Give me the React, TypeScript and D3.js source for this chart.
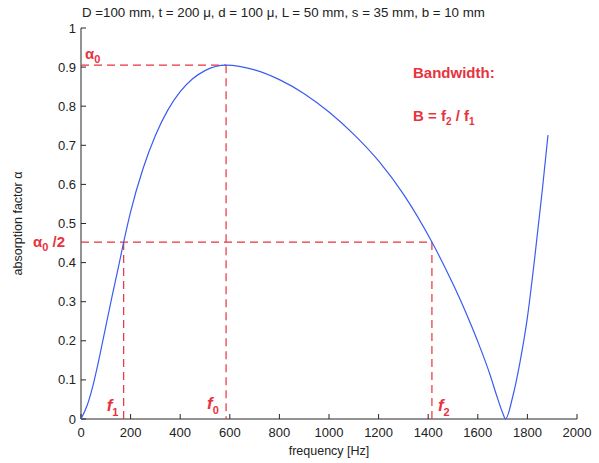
import * as d3 from "d3";

const freq = [0, 25, 50, 75, 100, 125, 150, 172, 200, 250, 300, 350, 400, 450, 500, 585, 700, 800, 900, 1000, 1100, 1200, 1300, 1415, 1500, 1550, 1600, 1650, 1675, 1700, 1712, 1740, 1770, 1800, 1830, 1860, 1883];
const alpha = [0, 0.035, 0.09, 0.16, 0.237, 0.313, 0.386, 0.4525, 0.53, 0.64, 0.725, 0.79, 0.837, 0.87, 0.891, 0.905, 0.893, 0.868, 0.832, 0.785, 0.728, 0.66, 0.575, 0.4525, 0.345, 0.275, 0.198, 0.112, 0.062, 0.016, 0, 0.055, 0.145, 0.26, 0.415, 0.585, 0.726];

const xTicks = [0, 200, 400, 600, 800, 1000, 1200, 1400, 1600, 1800, 2000];
const yTicks = [0, 0.1, 0.2, 0.3, 0.4, 0.5, 0.6, 0.7, 0.8, 0.9, 1];

const alpha0 = 0.905;
const f0 = 585;
const f1 = 172;
const f2 = 1415;

const title = "D =100 mm, t = 200 \u03bc, d = 100 \u03bc, L = 50 mm, s = 35 mm, b = 10 mm";

export default function App() {
  const width = 599;
  const height = 463;
  const marginLeft = 81;
  const marginRight = 22;
  const marginTop = 28;
  const marginBottom = 44;

  const x = d3.scaleLinear().domain([0, 2000]).range([marginLeft, width - marginRight]);
  const y = d3.scaleLinear().domain([0, 1]).range([height - marginBottom, marginTop]);

  const pts = freq.map((f, i) => [f, alpha[i]] as [number, number]);
  const line = d3
    .line<[number, number]>()
    .x((d) => x(d[0]))
    .y((d) => y(d[1]))
    .curve(d3.curveMonotoneX);

  const red = "#e8323e";
  const axisColor = "#262626";
  const font = "Arial, 'Liberation Sans', sans-serif";
  const dash = "8,5";
  const y0 = y(0);
  const half = alpha0 / 2;

  return (
    <svg width={width} height={height} style={{ position: "absolute", left: 0, top: 0 }} fontFamily={font}>
      <rect width={width} height={height} fill="white" />
      <text x={82} y={17} fontSize={13.3} fill="#222">{title}</text>

      {/* axes */}
      <line x1={x(0)} x2={x(0)} y1={y(0)} y2={y(1)} stroke={axisColor} />
      <line x1={x(0)} x2={x(2000)} y1={y0} y2={y0} stroke={axisColor} />
      {yTicks.map((t) => (
        <g key={"y" + t}>
          <line x1={x(0)} x2={x(0) + 5} y1={y(t)} y2={y(t)} stroke={axisColor} />
          <text x={x(0) - 5} y={y(t) + 4.5} fontSize={13} textAnchor="end" fill="#222">{d3.format("")(+t.toFixed(1))}</text>
        </g>
      ))}
      {xTicks.map((t) => (
        <g key={"x" + t}>
          <line x1={x(t)} x2={x(t)} y1={y0} y2={y0 - 5} stroke={axisColor} />
          <text x={x(t)} y={y0 + 18} fontSize={13} textAnchor="middle" fill="#222">{t}</text>
        </g>
      ))}
      <text x={x(1000)} y={455} fontSize={12.5} textAnchor="middle" fill="#222">frequency [Hz]</text>
      <text transform={`translate(22,${(y(0) + y(1)) / 2}) rotate(-90)`} fontSize={12.5} textAnchor="middle" fill="#222">absorption factor {"\u03b1"}</text>

      {/* dashed guides */}
      <g stroke={red} strokeDasharray={dash} strokeWidth={1.2} fill="none">
        <line x1={x(0)} x2={x(f0)} y1={y(alpha0)} y2={y(alpha0)} />
        <line x1={x(f0)} x2={x(f0)} y1={y(alpha0)} y2={y0} />
        <line x1={x(0)} x2={x(f2)} y1={y(half)} y2={y(half)} />
        <line x1={x(f1)} x2={x(f1)} y1={y(half)} y2={y0} />
        <line x1={x(f2)} x2={x(f2)} y1={y(half)} y2={y0} />
      </g>

      <path d={line(pts) ?? ""} fill="none" stroke="#3a5cf0" strokeWidth={1.2} />

      {/* annotations */}
      <g fill={red} fontWeight="bold">
        <text x={x(0) + 4} y={y(alpha0) - 6} fontSize={15}>{"\u03b1"}<tspan fontSize={11} dy={4}>0</tspan></text>
        <text x={33} y={y(half) + 5} fontSize={15}>{"\u03b1"}<tspan fontSize={11} dy={4}>0</tspan><tspan dy={-4}> /2</tspan></text>
        <text x={x(f1) - 17} y={y0 - 8} fontSize={17} fontStyle="italic">f<tspan fontSize={11} dy={5} fontStyle="normal">1</tspan></text>
        <text x={x(f0) - 19} y={y0 - 10} fontSize={17} fontStyle="italic">f<tspan fontSize={11} dy={5} fontStyle="normal">0</tspan></text>
        <text x={x(f2) + 6} y={y0 - 8} fontSize={17} fontStyle="italic">f<tspan fontSize={11} dy={5} fontStyle="normal">2</tspan></text>
        <text x={413} y={78} fontSize={15}>Bandwidth:</text>
        <text x={413} y={121} fontSize={15}>B = f<tspan fontSize={10} dy={4}>2</tspan><tspan dy={-4}> / f</tspan><tspan fontSize={10} dy={4}>1</tspan></text>
      </g>
    </svg>
  );
}
